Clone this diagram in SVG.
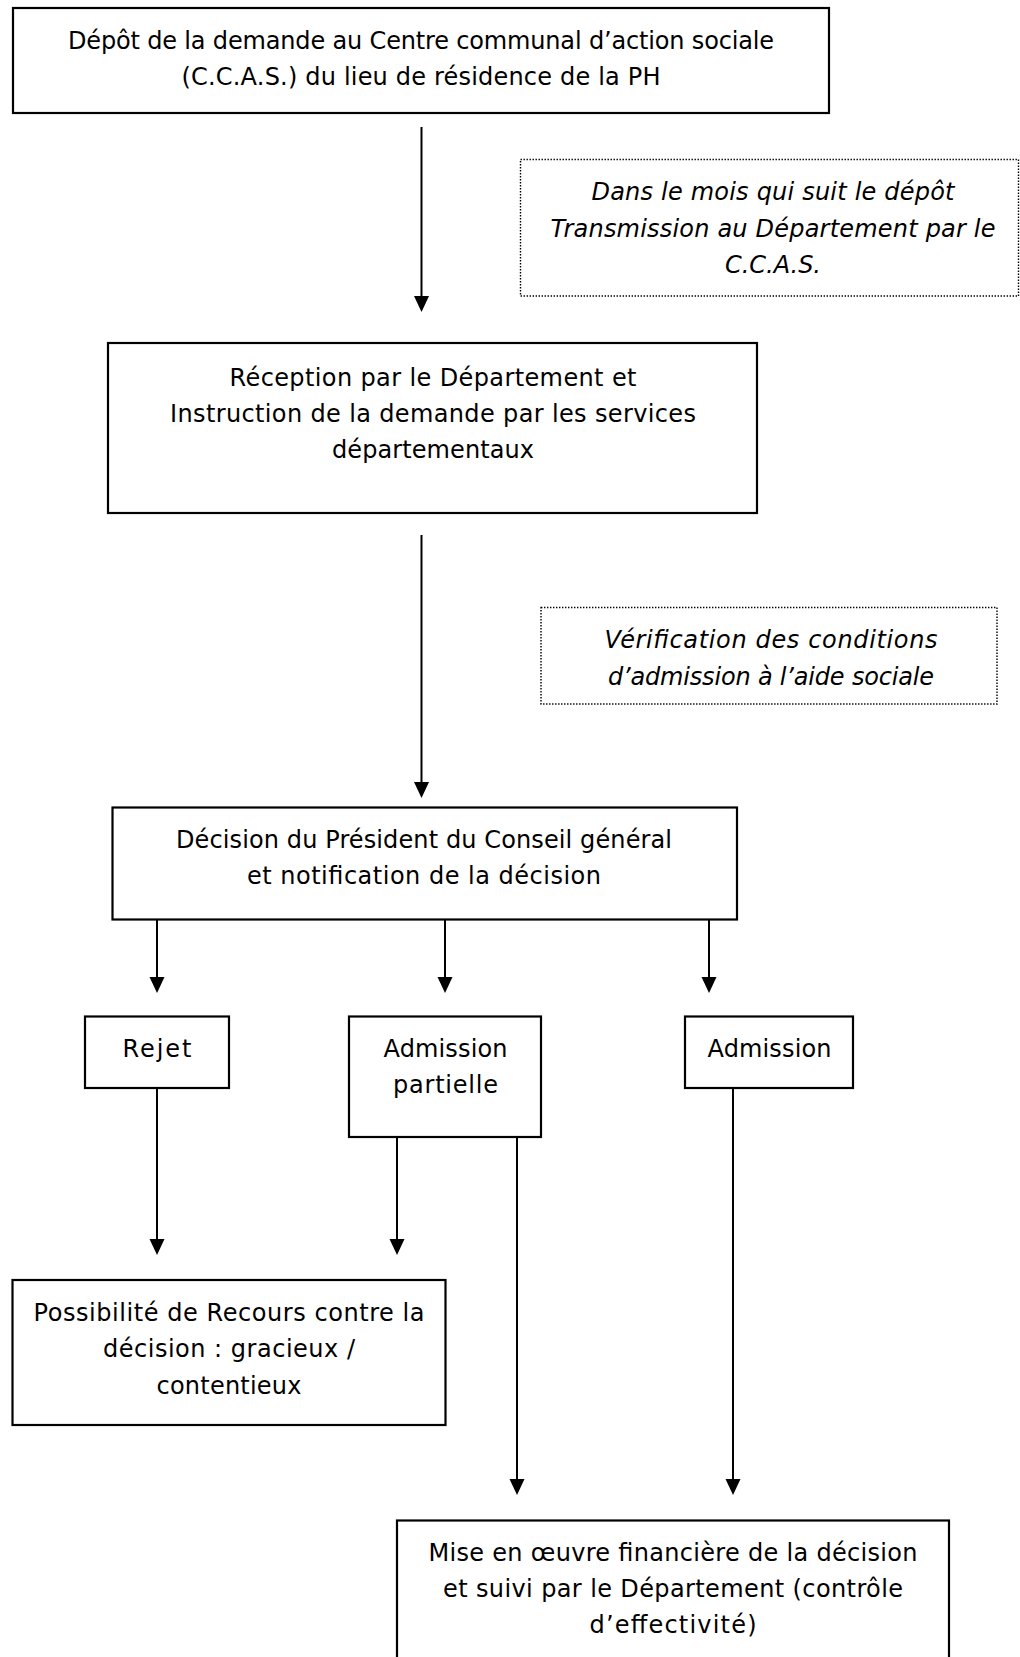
<svg xmlns="http://www.w3.org/2000/svg" width="1020" height="1657" viewBox="0 0 1020 1657">
<style>
.box{fill:#fff;stroke:#000;stroke-width:2.2}
.note{fill:#fff;stroke:#000;stroke-width:1.4;stroke-dasharray:1.4 1.6}
.t{font-family:"DejaVu Sans","Liberation Sans",sans-serif;font-size:24px;fill:#000;text-anchor:middle}
.i{font-style:italic}
.ln{stroke:#000;stroke-width:2}
</style>
<rect width="1020" height="1657" fill="#fff"/>
<g id="connectors">
<line class="ln" x1="421.5" y1="127" x2="421.5" y2="300"/>
<path d="M414,296 L429,296 L421.5,312 Z"/>
<line class="ln" x1="421.5" y1="535" x2="421.5" y2="786"/>
<path d="M414,782 L429,782 L421.5,798 Z"/>
<line class="ln" x1="157" y1="920" x2="157" y2="981"/>
<path d="M149.5,977 L164.5,977 L157,993 Z"/>
<line class="ln" x1="445" y1="920" x2="445" y2="981"/>
<path d="M437.5,977 L452.5,977 L445,993 Z"/>
<line class="ln" x1="709" y1="920" x2="709" y2="981"/>
<path d="M701.5,977 L716.5,977 L709,993 Z"/>
<line class="ln" x1="157" y1="1088" x2="157" y2="1243"/>
<path d="M149.5,1239 L164.5,1239 L157,1255 Z"/>
<line class="ln" x1="397" y1="1137" x2="397" y2="1243"/>
<path d="M389.5,1239 L404.5,1239 L397,1255 Z"/>
<line class="ln" x1="517" y1="1137" x2="517" y2="1483"/>
<path d="M509.5,1479 L524.5,1479 L517,1495 Z"/>
<line class="ln" x1="733" y1="1088" x2="733" y2="1483"/>
<path d="M725.5,1479 L740.5,1479 L733,1495 Z"/>
</g>
<g id="n-depot">
<rect class="box" x="13" y="8" width="816" height="105"/>
<text class="t" x="421" y="49" textLength="706" lengthAdjust="spacing">Dépôt de la demande au Centre communal d’action sociale</text>
<text class="t" x="421" y="85" textLength="479" lengthAdjust="spacing">(C.C.A.S.) du lieu de résidence de la PH</text>
</g>
<g id="n-transmission">
<rect class="note" x="520.5" y="159.5" width="498" height="136.5"/>
<text class="t i" x="773" y="200" textLength="363" lengthAdjust="spacing">Dans le mois qui suit le dépôt</text>
<text class="t i" x="773" y="237" textLength="445" lengthAdjust="spacing">Transmission au Département par le</text>
<text class="t i" x="773" y="273" textLength="96" lengthAdjust="spacing">C.C.A.S.</text>
</g>
<g id="n-reception">
<rect class="box" x="108" y="343" width="649" height="170"/>
<text class="t" x="433" y="386" textLength="407" lengthAdjust="spacing">Réception par le Département et</text>
<text class="t" x="433" y="422" textLength="526" lengthAdjust="spacing">Instruction de la demande par les services</text>
<text class="t" x="433" y="458" textLength="202" lengthAdjust="spacing">départementaux</text>
</g>
<g id="n-verification">
<rect class="note" x="541" y="607.5" width="456" height="96.5"/>
<text class="t i" x="771" y="648" textLength="333" lengthAdjust="spacing">Vérification des conditions</text>
<text class="t i" x="771" y="685" textLength="326" lengthAdjust="spacing">d’admission à l’aide sociale</text>
</g>
<g id="n-decision">
<rect class="box" x="112.5" y="807.5" width="624.5" height="112"/>
<text class="t" x="424" y="848" textLength="496" lengthAdjust="spacing">Décision du Président du Conseil général</text>
<text class="t" x="424" y="884" textLength="354" lengthAdjust="spacing">et notification de la décision</text>
</g>
<g id="n-rejet">
<rect class="box" x="85" y="1016.5" width="144" height="71.5"/>
<text class="t" x="157" y="1057" textLength="69" lengthAdjust="spacing">Rejet</text>
</g>
<g id="n-admission-partielle">
<rect class="box" x="349" y="1016.5" width="192" height="120.5"/>
<text class="t" x="445.5" y="1057" textLength="124" lengthAdjust="spacing">Admission</text>
<text class="t" x="445.5" y="1093" textLength="105" lengthAdjust="spacing">partielle</text>
</g>
<g id="n-admission">
<rect class="box" x="685" y="1016.5" width="168" height="71.5"/>
<text class="t" x="769.5" y="1057" textLength="124" lengthAdjust="spacing">Admission</text>
</g>
<g id="n-recours">
<rect class="box" x="12.5" y="1280" width="433" height="145"/>
<text class="t" x="229" y="1321" textLength="391" lengthAdjust="spacing">Possibilité de Recours contre la</text>
<text class="t" x="229" y="1357" textLength="252" lengthAdjust="spacing">décision : gracieux /</text>
<text class="t" x="229" y="1394" textLength="145" lengthAdjust="spacing">contentieux</text>
</g>
<g id="n-mise">
<rect class="box" x="397" y="1520.5" width="552" height="150"/>
<text class="t" x="673" y="1561" textLength="489" lengthAdjust="spacing">Mise en œuvre financière de la décision</text>
<text class="t" x="673" y="1597" textLength="460" lengthAdjust="spacing">et suivi par le Département (contrôle</text>
<text class="t" x="673" y="1633" textLength="167" lengthAdjust="spacing">d’effectivité)</text>
</g>
</svg>
